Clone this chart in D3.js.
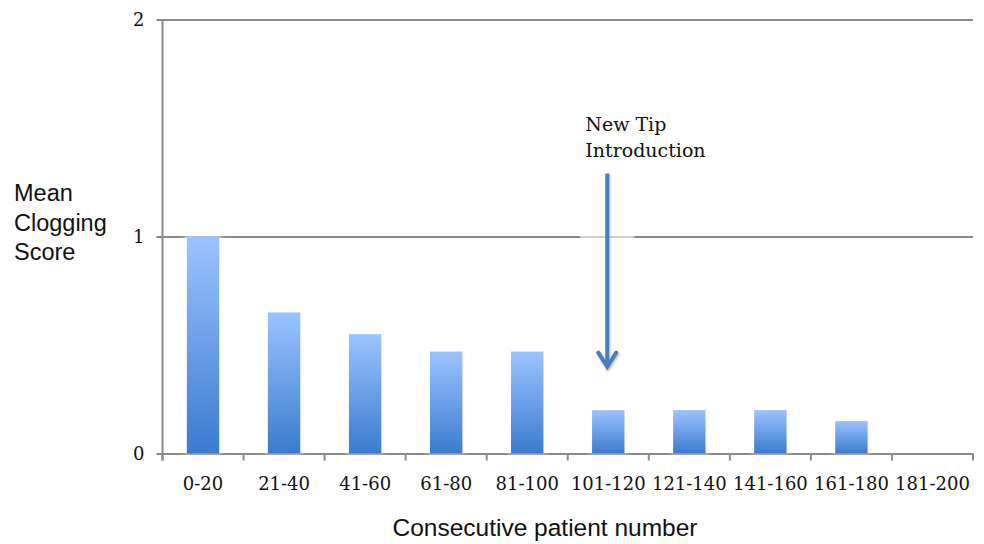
<!DOCTYPE html>
<html>
<head>
<meta charset="utf-8">
<script src="https://cdn.jsdelivr.net/npm/d3@7"></script>
<style>
  html, body { margin: 0; padding: 0; background: #fff; }
  svg { display: block; }
</style>
</head>
<body>
<svg id="chart" width="984" height="544"></svg>
<script>
// Mean clogging score per block of 20 consecutive patients
const categories = ["0-20", "21-40", "41-60", "61-80", "81-100", "101-120", "121-140", "141-160", "161-180", "181-200"];
const meanScores = [1.0, 0.65, 0.55, 0.47, 0.47, 0.2, 0.2, 0.2, 0.15, 0];
const yTicks = [0, 1, 2];
const annotationCategory = "101-120";
const annotationLines = ["New Tip", "Introduction"];
const yTitleLines = ["Mean", "Clogging", "Score"];
const xTitle = "Consecutive patient number";

const svg = d3.select("#chart");
const margin = { left: 162.5, right: 11, top: 19.5, bottom: 90.5 };
const W = 984, H = 544;
const plotW = W - margin.left - margin.right;
const plotH = H - margin.top - margin.bottom;

const defs = svg.append("defs");
const grad = defs.append("linearGradient")
  .attr("id", "barFill").attr("x1", 0).attr("y1", 0).attr("x2", 0).attr("y2", 1);
grad.append("stop").attr("offset", "0%").attr("stop-color", "#9cc3ff");
grad.append("stop").attr("offset", "100%").attr("stop-color", "#3b7bcf");

const glow = defs.append("filter").attr("id", "glow")
  .attr("x", "-30%").attr("y", "-30%").attr("width", "160%").attr("height", "160%");
glow.append("feGaussianBlur").attr("stdDeviation", 2.5);

const arrowShadow = defs.append("filter").attr("id", "arrowShadow")
  .attr("x", "-100%").attr("y", "-10%").attr("width", "300%").attr("height", "120%");
arrowShadow.append("feDropShadow").attr("dx", 1).attr("dy", 1.5)
  .attr("stdDeviation", 1.2).attr("flood-color", "#000").attr("flood-opacity", 0.25);

const g = svg.append("g").attr("transform", `translate(${margin.left},${margin.top})`);

const x = d3.scaleBand().domain(categories).range([0, plotW])
  .paddingInner(0.6).paddingOuter(0.3);
const y = d3.scaleLinear().domain([0, 2]).range([plotH, 0]);

const gridColor = "#8a8a8a";
const serif = "'DejaVu Serif', serif";
const sans = "'Liberation Sans', Arial, sans-serif";

// horizontal gridlines with left value labels
const yAxis = d3.axisLeft(y).tickValues(yTicks).tickFormat(d3.format("d"))
  .tickSize(-plotW).tickSizeOuter(0).tickPadding(18);
const yg = g.append("g").call(yAxis);
yg.select(".domain").remove();
yg.selectAll(".tick line").attr("x1", -6).attr("x2", plotW)
  .attr("stroke", gridColor).attr("stroke-width", 2);
yg.selectAll(".tick text").attr("font-family", serif).attr("font-size", 18)
  .attr("fill", "#111").attr("dy", "0.36em");

// vertical axis line
g.append("line").attr("x1", 0).attr("x2", 0).attr("y1", 0).attr("y2", plotH + 7)
  .attr("stroke", gridColor).attr("stroke-width", 2);

// category boundary ticks below the baseline
const boundaries = categories.map(c => x(c) - x.step() * x.paddingOuter()).concat([plotW]);
g.selectAll(".btick").data(boundaries).join("line")
  .attr("x1", d => d).attr("x2", d => d)
  .attr("y1", plotH).attr("y2", plotH + 7)
  .attr("stroke", gridColor).attr("stroke-width", 2);

// category labels
const xAxis = d3.axisBottom(x).tickSize(0).tickPadding(24);
const xg = g.append("g").attr("transform", `translate(0,${plotH})`).call(xAxis);
xg.select(".domain").remove();
xg.selectAll(".tick text").attr("font-family", serif).attr("font-size", 18).attr("fill", "#111");

// bars: soft halo then gradient fill
const barData = categories.map((c, i) => ({ c, v: meanScores[i] })).filter(d => d.v > 0);
g.selectAll(".halo").data(barData).join("rect")
  .attr("x", d => x(d.c) - 2).attr("y", d => y(d.v) - 1)
  .attr("width", x.bandwidth() + 4).attr("height", d => plotH - y(d.v) + 1)
  .attr("fill", "#fff").attr("opacity", 0.75).attr("filter", "url(#glow)");
g.selectAll(".bar").data(barData).join("rect")
  .attr("x", d => x(d.c)).attr("y", d => y(d.v))
  .attr("width", x.bandwidth()).attr("height", d => plotH - y(d.v))
  .attr("fill", "url(#barFill)");

// annotation arrow pointing at the new-tip block
const ax = x(annotationCategory) + x.bandwidth() / 2 - 1;
g.append("rect").attr("x", ax - 27).attr("y", y(1) - 2).attr("width", 54).attr("height", 4)
  .attr("fill", "#fff").attr("opacity", 0.6);
const arrow = g.append("g").attr("filter", "url(#arrowShadow)")
  .attr("stroke", "#4a7dc0").attr("stroke-width", 4).attr("fill", "none");
const tipY = y(0.4);
arrow.append("line").attr("x1", ax).attr("x2", ax).attr("y1", y(1.29)).attr("y2", tipY - 2);
arrow.append("path")
  .attr("d", `M${ax - 9},${tipY - 14} L${ax},${tipY} L${ax + 9},${tipY - 14}`)
  .attr("stroke-linejoin", "miter").attr("stroke-linecap", "round");

const ann = g.append("text").attr("font-family", serif).attr("font-size", 19).attr("fill", "#111");
annotationLines.forEach((t, i) => {
  ann.append("tspan").attr("x", ax - 22).attr("y", y(1.5) + 3 + i * 26).text(t);
});

// axis titles
const yt = svg.append("text").attr("font-family", sans).attr("font-size", 23.5).attr("fill", "#111");
yTitleLines.forEach((t, i) => {
  yt.append("tspan").attr("x", 14).attr("y", 201 + i * 29.5).text(t);
});
svg.append("text").attr("x", 545).attr("y", 536).attr("text-anchor", "middle")
  .attr("font-family", sans).attr("font-size", 24.5).attr("fill", "#111").text(xTitle);
</script>
</body>
</html>
